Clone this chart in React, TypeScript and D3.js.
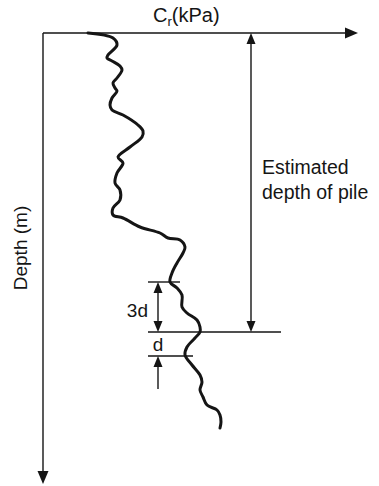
import React from "react";
import * as d3 from "d3";

const crValues = [4.5, 7.0, 7.4, 6.5, 6.4, 6.9, 7.7, 7.9, 7.4, 7.0, 7.2, 7.4, 6.9, 6.7, 6.9, 8.0, 9.5, 10.0, 9.9, 8.7, 7.5, 8.0, 7.4, 7.2, 7.7, 7.7, 7.0, 7.0, 8.0, 9.7, 11.7, 12.5, 13.7, 14.2, 14.0, 13.4, 12.9, 12.7, 13.4, 13.9, 13.9, 14.4, 15.4, 15.7, 15.7, 15.2, 14.4, 14.2, 14.9, 15.7, 15.9, 15.7, 16.0, 16.4, 17.4, 17.7, 17.8, 17.7];
const depthValues = [0, 0.5, 1.2, 2.2, 2.5, 2.8, 3.3, 3.7, 4.5, 5.0, 5.5, 5.8, 6.5, 7.2, 7.7, 8.2, 9.2, 9.8, 10.4, 11.4, 12.4, 13.0, 14.0, 15.0, 15.7, 16.7, 17.5, 18.2, 18.5, 19.4, 20.0, 20.5, 20.7, 21.4, 22.0, 23.0, 24.0, 24.9, 25.5, 26.2, 27.4, 28.0, 28.7, 29.4, 29.9, 30.5, 31.4, 32.2, 33.2, 34.2, 34.9, 35.7, 36.4, 37.2, 37.7, 38.2, 38.9, 39.5];
const pileDepth = 29.9;
const upperMark = 24.9;
const lowerMark = 32.3;
const labels = { x: "C", xSub: "r", xUnit: "(kPa)", y: "Depth (m)", pile1: "Estimated", pile2: "depth of pile", d3: "3d", d: "d" };

export default function App() {
  const W = 379, H = 486;
  const x = d3.scaleLinear().domain([0, 31.5]).range([43, 358]);
  const y = d3.scaleLinear().domain([0, 45.1]).range([33, 484]);
  const pts: [number, number][] = crValues.map((c, i) => [x(c), y(depthValues[i])]);
  const line = d3.line().curve(d3.curveCatmullRom.alpha(0.5))(pts) || "";
  const font = "Liberation Sans, Arial, sans-serif";
  const ink = "#151515";
  const arrowDown = (cx: number, tip: number) => `M${cx - 4.5},${tip - 11}L${cx + 4.5},${tip - 11}L${cx},${tip}Z`;
  const arrowUp = (cx: number, tip: number) => `M${cx - 4.5},${tip + 11}L${cx + 4.5},${tip + 11}L${cx},${tip}Z`;
  const pileX = 251;
  const markX = 158;
  return (
    <svg width={W} height={H} style={{ position: "absolute", left: 0, top: 0, background: "#fff" }}>
      {/* axes */}
      <line x1={x(0)} y1={y(0)} x2={x.range()[1] - 10} y2={y(0)} stroke={ink} strokeWidth={1.4} />
      <path d={`M${x.range()[1] - 13},${y(0) - 5.5}L${x.range()[1] - 13},${y(0) + 5.5}L${x.range()[1]},${y(0)}Z`} fill={ink} />
      <line x1={x(0)} y1={y(0)} x2={x(0)} y2={y.range()[1] - 10} stroke={ink} strokeWidth={1.4} />
      <path d={`M${x(0) - 5.5},${y.range()[1] - 13}L${x(0) + 5.5},${y.range()[1] - 13}L${x(0)},${y.range()[1]}Z`} fill={ink} />
      <text x={153} y={22} fontFamily={font} fontSize={20} fill={ink}>
        {labels.x}
        <tspan fontSize={13} dy={4}>{labels.xSub}</tspan>
        <tspan dy={-4}>{labels.xUnit}</tspan>
      </text>
      <text transform={`translate(27,248) rotate(-90)`} fontFamily={font} fontSize={19} fill={ink} textAnchor="middle">{labels.y}</text>
      {/* curve */}
      <path d={line} fill="none" stroke={ink} strokeWidth={3} strokeLinejoin="round" strokeLinecap="round" />
      {/* pile depth */}
      <line x1={pileX} y1={y(0) + 8} x2={pileX} y2={y(pileDepth) - 8} stroke={ink} strokeWidth={1.4} />
      <path d={arrowUp(pileX, y(0))} fill={ink} />
      <path d={arrowDown(pileX, y(pileDepth))} fill={ink} />
      <text x={262} y={174} fontFamily={font} fontSize={19.5} fill={ink}>{labels.pile1}</text>
      <text x={262} y={199} fontFamily={font} fontSize={19.5} fill={ink}>{labels.pile2}</text>
      {/* marker lines */}
      <line x1={148} y1={y(pileDepth)} x2={281} y2={y(pileDepth)} stroke={ink} strokeWidth={1.4} />
      <line x1={148} y1={y(upperMark)} x2={180} y2={y(upperMark)} stroke={ink} strokeWidth={1.4} />
      <line x1={148} y1={y(lowerMark)} x2={193} y2={y(lowerMark)} stroke={ink} strokeWidth={1.4} />
      {/* 3d arrow */}
      <line x1={markX} y1={y(upperMark) + 8} x2={markX} y2={y(pileDepth) - 8} stroke={ink} strokeWidth={1.4} />
      <path d={arrowUp(markX, y(upperMark))} fill={ink} />
      <path d={arrowDown(markX, y(pileDepth))} fill={ink} />
      <text x={148} y={317} fontFamily={font} fontSize={19} fill={ink} textAnchor="end">{labels.d3}</text>
      {/* d arrow */}
      <line x1={markX} y1={y(lowerMark) + 8} x2={markX} y2={389} stroke={ink} strokeWidth={1.4} />
      <path d={arrowUp(markX, y(lowerMark))} fill={ink} />
      <text x={158} y={351} fontFamily={font} fontSize={19} fill={ink} textAnchor="middle">{labels.d}</text>
    </svg>
  );
}
